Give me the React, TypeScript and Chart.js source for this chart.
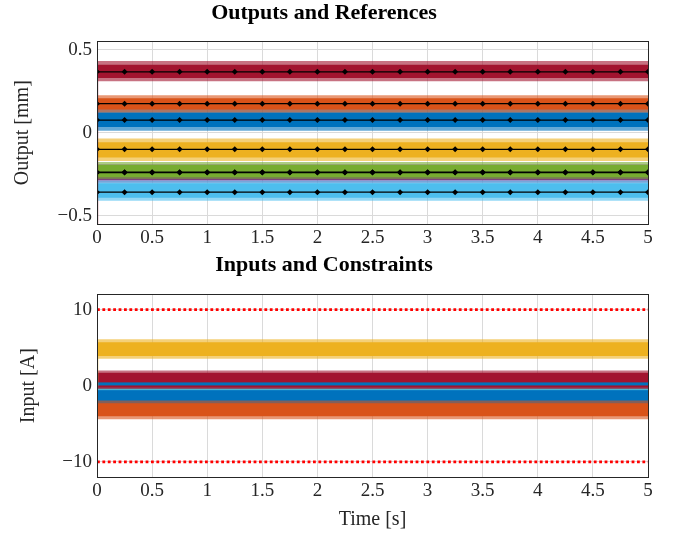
import React, { useEffect, useRef } from "react";
import { Chart, registerables } from "chart.js";

Chart.register(...registerables);

// ---------- data ----------
const T_START = 0;
const T_END = 5;
const TIME_TICKS = [0, 0.5, 1, 1.5, 2, 2.5, 3, 3.5, 4, 4.5, 5];
const REF_TIMES = [0, 0.25, 0.5, 0.75, 1, 1.25, 1.5, 1.75, 2, 2.25, 2.5, 2.75, 3, 3.25, 3.5, 3.75, 4, 4.25, 4.5, 4.75, 5];
const OUTPUT_TICKS = [-0.5, 0, 0.5];
const INPUT_TICKS = [-10, 0, 10];

const SERIES_COLORS = ["#0072BD", "#D95319", "#EDB120", "#7E2F8E", "#77AC30", "#4DBEEE", "#A2142F"];

// Outputs (mm): noise envelopes per output (blue, orange, yellow, purple, green, light blue, dark red)
const outputOuterHigh = [0.145, 0.225, -0.035, -0.19, -0.176, -0.288, 0.432];
const outputCoreHigh = [0.122, 0.208, -0.058, -0.205, -0.195, -0.305, 0.41];
const outputCoreLow = [0.034, 0.14, -0.15, -0.285, -0.268, -0.392, 0.33];
const outputOuterLow = [0.012, 0.122, -0.17, -0.302, -0.28, -0.41, 0.31];
const outputRefs = [0.076, 0.175, -0.1, -0.24, -0.238, -0.358, 0.367];
// start-up transient of the dark red output at t = 0
const outputStartTimes = [0, 0.004];
const outputStartValues = [-0.6, 0.367];

// Inputs (A): noise envelopes per input
const inputColorIndex = [0, 1, 2, 3, 4, 5, 6, 0];
const inputOuterHigh = [0.3, -1.95, 6.1, 0.25, -0.3, -0.3, 2.0, 0.5];
const inputCoreHigh = [-0.3, -2.3, 5.7, 0.1, -0.38, -0.38, 1.7, 0.35];
const inputCoreLow = [-2.5, -4.0, 3.9, -0.1, -0.48, -0.5, -0.25, 0.1];
const inputOuterLow = [-2.9, -4.4, 3.55, -0.25, -0.55, -0.6, -0.45, 0.0];
const inputLimits = [10, -10];
// start-up transient of the yellow input at t = 0
const inputStartTimes = [0, 0.004];
const inputStartValues = [0, 4.8];

// ---------- helpers ----------
const FONT = "'Liberation Serif', 'Times New Roman', serif";
const TEXT = "#262626";

function hexA(hex: string, a: number) {
  const n = parseInt(hex.slice(1), 16);
  return `rgba(${(n >> 16) & 255},${(n >> 8) & 255},${n & 255},${a})`;
}

function fmt(v: number) {
  const s = String(Math.round(v * 1000) / 1000);
  return s.replace("-", "\u2212");
}

function flat(v: number) {
  return [
    { x: T_START, y: v },
    { x: T_END, y: v },
  ];
}

function bandSets(
  colorIdx: number[],
  oh: number[],
  ch: number[],
  cl: number[],
  ol: number[]
) {
  const ds: any[] = [];
  const n = oh.length;
  for (let k = 0; k < n; k++) {
    const c = SERIES_COLORS[colorIdx[k]];
    const base = (n - k) * 10;
    const common = { borderWidth: 0, borderColor: "rgba(0,0,0,0)", pointRadius: 0 };
    ds.push({ ...common, data: flat(oh[k]), fill: "+1", backgroundColor: hexA(c, 0.6), order: base + 2 });
    ds.push({ ...common, data: flat(ol[k]), fill: false, order: base + 2 });
    ds.push({ ...common, data: flat(ch[k]), fill: "+1", backgroundColor: c, order: base });
    ds.push({ ...common, data: flat(cl[k]), fill: false, order: base });
  }
  return ds;
}

const boxPlugin = {
  id: "box",
  afterDraw(chart: any) {
    const { ctx, chartArea: a } = chart;
    ctx.save();
    ctx.strokeStyle = TEXT;
    ctx.lineWidth = 1;
    ctx.strokeRect(Math.round(a.left) + 0.5, Math.round(a.top) + 0.5, Math.round(a.right - a.left), Math.round(a.bottom - a.top));
    ctx.restore();
  },
};

function makeOptions(cfg: {
  title: string;
  titleBottom: number;
  yMin: number;
  yMax: number;
  yTicks: number[];
  yTitle: string;
  yTitlePad: number;
  xHeight: number;
  xTitle?: string;
}) {
  const tickFont = { family: FONT, size: 19 };
  return {
    responsive: false,
    animation: false as const,
    events: [],
    layout: { padding: { left: 0, right: 29, top: 0, bottom: 0 } },
    plugins: {
      legend: { display: false },
      tooltip: { enabled: false },
      title: {
        display: true,
        text: cfg.title,
        color: "#000",
        font: { family: FONT, size: 22, weight: "bold" as const, lineHeight: 1.2 },
        padding: { top: 0, bottom: cfg.titleBottom },
      },
    },
    scales: {
      x: {
        type: "linear" as const,
        min: T_START,
        max: T_END,
        afterBuildTicks: (s: any) => {
          s.ticks = TIME_TICKS.map((v) => ({ value: v }));
        },
        afterFit: (s: any) => {
          s.height = cfg.xHeight;
        },
        grid: { color: "#dadada", drawTicks: false, lineWidth: 1 },
        border: { display: false },
        ticks: {
          padding: 3,
          color: TEXT,
          font: tickFont,
          maxRotation: 0,
          autoSkip: false,
          callback: (v: any) => fmt(Number(v)),
        },
        title: cfg.xTitle
          ? { display: true, text: cfg.xTitle, color: TEXT, font: { family: FONT, size: 20, lineHeight: 1.2 }, padding: { top: 0, bottom: 3 } }
          : { display: false },
      },
      y: {
        type: "linear" as const,
        min: cfg.yMin,
        max: cfg.yMax,
        afterBuildTicks: (s: any) => {
          s.ticks = cfg.yTicks.map((v) => ({ value: v }));
        },
        afterFit: (s: any) => {
          s.width = 97;
        },
        grid: { color: "#dadada", drawTicks: false, lineWidth: 1 },
        border: { display: false },
        ticks: {
          padding: 5,
          color: TEXT,
          font: tickFont,
          autoSkip: false,
          callback: (v: any) => fmt(Number(v)),
        },
        title: {
          display: true,
          text: cfg.yTitle,
          color: TEXT,
          font: { family: FONT, size: 20, lineHeight: 1.2 },
          padding: { top: cfg.yTitlePad, bottom: 0 },
        },
      },
    },
  };
}

function OutputsChart() {
  const ref = useRef<HTMLCanvasElement>(null);
  useEffect(() => {
    const datasets: any[] = bandSets([0, 1, 2, 3, 4, 5, 6], outputOuterHigh, outputCoreHigh, outputCoreLow, outputOuterLow);
    datasets.push({
      data: outputStartTimes.map((t, i) => ({ x: t, y: outputStartValues[i] })),
      borderColor: hexA(SERIES_COLORS[6], 0.8),
      borderWidth: 1.5,
      pointRadius: 0,
      fill: false,
      order: 1,
    });
    outputRefs.forEach((r) => {
      datasets.push({
        data: REF_TIMES.map((t) => ({ x: t, y: r })),
        borderColor: "#000",
        backgroundColor: "#000",
        borderWidth: 1.2,
        pointStyle: "rectRot",
        pointRadius: 3,
        pointBorderWidth: 0,
        fill: false,
        order: -10,
      });
    });
    const chart = new Chart(ref.current as HTMLCanvasElement, {
      type: "line",
      data: { datasets },
      options: makeOptions({
        title: "Outputs and References",
        titleBottom: 15,
        yMin: -0.55,
        yMax: 0.55,
        yTicks: OUTPUT_TICKS,
        yTitle: "Output [mm]",
        yTitlePad: 11,
        xHeight: 28,
      }) as any,
      plugins: [boxPlugin],
    });
    return () => chart.destroy();
  }, []);
  return <canvas ref={ref} width={677} height={252} style={{ display: "block" }} />;
}

function InputsChart() {
  const ref = useRef<HTMLCanvasElement>(null);
  useEffect(() => {
    const datasets: any[] = bandSets(inputColorIndex, inputOuterHigh, inputCoreHigh, inputCoreLow, inputOuterLow);
    datasets.push({
      data: inputStartTimes.map((t, i) => ({ x: t, y: inputStartValues[i] })),
      borderColor: SERIES_COLORS[2],
      borderWidth: 1.5,
      pointRadius: 0,
      fill: false,
      order: 1,
    });
    inputLimits.forEach((lim) => {
      datasets.push({
        data: flat(lim),
        borderColor: "#ff0000",
        borderWidth: 2.8,
        borderDash: [2.8, 2.6],
        borderCapStyle: "butt",
        pointRadius: 0,
        fill: false,
        order: -10,
      });
    });
    const chart = new Chart(ref.current as HTMLCanvasElement, {
      type: "line",
      data: { datasets },
      options: makeOptions({
        title: "Inputs and Constraints",
        titleBottom: 16,
        yMin: -12,
        yMax: 12,
        yTicks: INPUT_TICKS,
        yTitle: "Input [A]",
        yTitlePad: 17,
        xHeight: 58,
        xTitle: "Time [s]",
      }) as any,
      plugins: [boxPlugin],
    });
    return () => chart.destroy();
  }, []);
  return <canvas ref={ref} width={677} height={283} style={{ display: "block" }} />;
}

export default function App() {
  return (
    <div style={{ position: "absolute", left: 0, top: 0, width: 677, height: 535, background: "#fff" }}>
      <OutputsChart />
      <InputsChart />
    </div>
  );
}
